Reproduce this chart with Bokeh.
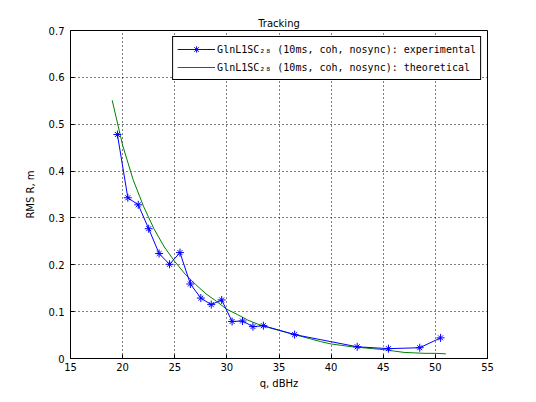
from bokeh.plotting import figure
from bokeh.models import Range1d, Legend, LegendItem, FixedTicker
from bokeh.embed import file_html
from bokeh.resources import INLINE

# Experimental series
exp_q = [19.5, 20.5, 21.5, 22.5, 23.5, 24.5, 25.5, 26.5, 27.5, 28.5, 29.5,
         30.5, 31.5, 32.5, 33.5, 36.5, 42.5, 45.5, 48.5, 50.5]
exp_rms = [0.478, 0.343, 0.328, 0.277, 0.224, 0.201, 0.226, 0.159, 0.129, 0.115, 0.125,
           0.079, 0.080, 0.068, 0.070, 0.051, 0.025, 0.021, 0.023, 0.044]

# Theoretical series
th_q = [19, 20, 21, 22, 23, 24, 25, 26, 27, 28, 29, 30, 31, 32, 33, 34, 35,
        36, 37, 38, 39, 40, 41, 42, 43, 44, 45, 46, 47, 48, 49, 50, 51]
th_rms = [0.551, 0.455, 0.382, 0.325, 0.277, 0.238, 0.207, 0.180, 0.158, 0.138, 0.122,
          0.105, 0.094, 0.082, 0.073, 0.066, 0.060, 0.054, 0.048, 0.042, 0.036,
          0.031, 0.028, 0.025, 0.023, 0.021, 0.019, 0.016, 0.013, 0.012, 0.011,
          0.011, 0.010]

x_ticks = [15, 20, 25, 30, 35, 40, 45, 50, 55]
y_ticks = [0, 0.1, 0.2, 0.3, 0.4, 0.5, 0.6, 0.7]
label_exp = "GlnL1SC\u2082\u2088 (10ms, coh, nosync): experimental"
label_th = "GlnL1SC\u2082\u2088 (10ms, coh, nosync): theoretical"

FONT = "DejaVu Sans"
p = figure(width=528, height=394, output_backend="svg", toolbar_location=None,
           x_range=Range1d(15, 55), y_range=Range1d(0, 0.7),
           title="Tracking", min_border_left=70, min_border_right=41,
           min_border_top=30, min_border_bottom=36)

p.title.align = "center"
p.title.text_font = FONT
p.title.text_font_size = "10px"
p.title.text_font_style = "normal"
p.title.text_color = "black"
p.title.standoff = 4

p.outline_line_color = "black"
p.outline_line_alpha = 1
p.background_fill_color = "white"
p.border_fill_color = "white"

for ax in (p.xaxis[0], p.yaxis[0]):
    ax.major_tick_in = 4
    ax.major_tick_out = 0
    ax.minor_tick_in = 0
    ax.minor_tick_out = 0
    ax.axis_line_color = "black"
    ax.major_tick_line_color = "black"
    ax.major_label_text_font = FONT
    ax.major_label_text_font_size = "10px"
    ax.major_label_text_color = "black"
    ax.axis_label_text_font = FONT
    ax.axis_label_text_font_size = "10px"
    ax.axis_label_text_font_style = "normal"
    ax.axis_label_text_color = "black"

p.xaxis.ticker = FixedTicker(ticks=x_ticks)
p.yaxis.ticker = FixedTicker(ticks=y_ticks)
p.yaxis.major_label_overrides = {0: "0", 0.1: "0.1", 0.2: "0.2", 0.3: "0.3",
                                 0.4: "0.4", 0.5: "0.5", 0.6: "0.6", 0.7: "0.7"}
p.xaxis.axis_label = "q, dBHz"
p.yaxis.axis_label = "RMS R, m"
p.xaxis.major_label_standoff = 4
p.yaxis.major_label_standoff = 6
p.xaxis.axis_label_standoff = 4
p.yaxis.axis_label_standoff = 10

p.grid.grid_line_color = "black"
p.grid.grid_line_dash = "1 3"
p.grid.grid_line_alpha = 1
p.grid.grid_line_width = 1

g_th = p.line(th_q, th_rms, line_color="#008000", line_width=1)
g_exp = p.line(exp_q, exp_rms, line_color="#0000FF", line_width=1)
m1 = p.scatter(exp_q, exp_rms, marker="cross", size=8, line_color="#0000FF", line_width=1)
m2 = p.scatter(exp_q, exp_rms, marker="x", size=7, line_color="#0000FF", line_width=1)

legend = Legend(items=[LegendItem(label=label_exp, renderers=[g_exp, m1, m2]),
                       LegendItem(label=label_th, renderers=[g_th])],
                location="top_right")
legend.label_text_font = "DejaVu Sans Mono"
legend.label_text_font_size = "10px"
legend.label_text_color = "black"
legend.border_line_color = "black"
legend.border_line_alpha = 1
legend.background_fill_alpha = 1
legend.glyph_width = 38
legend.label_standoff = 2
legend.spacing = 2
legend.padding = 4
legend.margin = 6
legend.label_height = 16
legend.glyph_height = 16
p.add_layout(legend)

open("out.html", "w").write(file_html(p, INLINE))
